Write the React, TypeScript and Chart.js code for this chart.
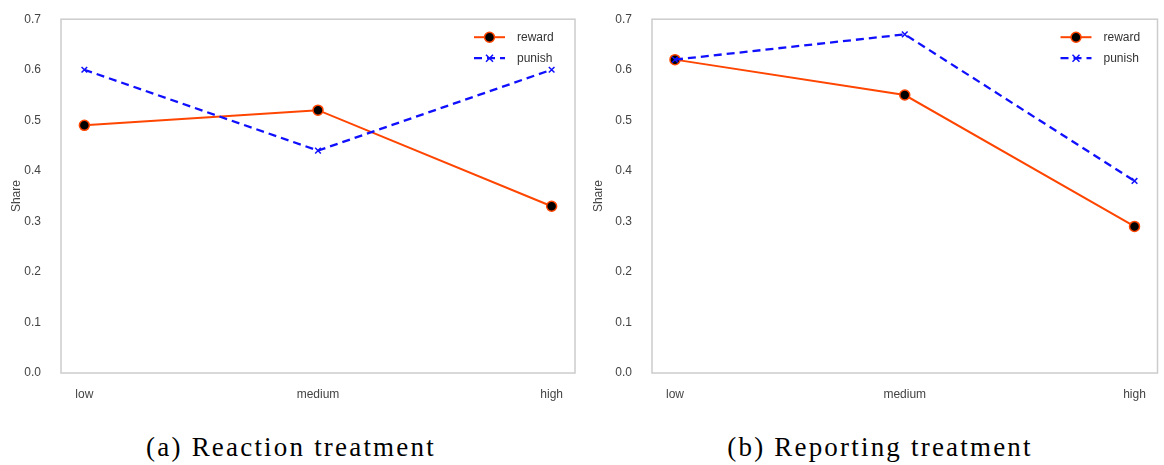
import React, { useEffect, useRef } from "react";
import { Chart, registerables } from "chart.js";

Chart.register(...registerables);

const categories = ["low", "medium", "high"];
const yTicks = [0, 0.1, 0.2, 0.3, 0.4, 0.5, 0.6, 0.7];

const reactionReward = [0.49, 0.52, 0.33];
const reactionPunish = [0.6, 0.44, 0.6];
const reportingReward = [0.62, 0.55, 0.29];
const reportingPunish = [0.62, 0.67, 0.38];

const REWARD_COLOR = "#ff4500";
const PUNISH_COLOR = "#1010ff";
const TICK_FONT = "'Liberation Sans', Arial, sans-serif";

function makeBoxAndLegend(legendOffset: number) {
  return {
    id: "boxAndLegend",
    afterDraw(chart: any) {
      const { ctx, chartArea } = chart;
      ctx.save();
      ctx.strokeStyle = "#cccccc";
      ctx.lineWidth = 1.5;
      ctx.strokeRect(chartArea.left, chartArea.top, chartArea.right - chartArea.left, chartArea.bottom - chartArea.top);

      const x0 = chartArea.right - legendOffset;
      const len = 31;
      const rows = [chartArea.top + 18, chartArea.top + 39];
      ctx.font = `12px ${TICK_FONT}`;
      ctx.textBaseline = "middle";
      ctx.textAlign = "left";
      const dsets = [chart.data.datasets[0], chart.data.datasets[1]];
      dsets.forEach((ds: any, i: number) => {
        const y = rows[i];
        ctx.save();
        ctx.strokeStyle = ds.borderColor;
        ctx.lineWidth = ds.borderWidth;
        ctx.setLineDash(ds.borderDash || []);
        ctx.beginPath();
        ctx.moveTo(x0, y);
        ctx.lineTo(x0 + len, y);
        ctx.stroke();
        ctx.restore();
        const cx = x0 + len / 2;
        ctx.save();
        if (ds.pointStyle === "circle") {
          ctx.beginPath();
          ctx.arc(cx, y, 5, 0, Math.PI * 2);
          ctx.fillStyle = ds.pointBackgroundColor;
          ctx.fill();
          ctx.strokeStyle = ds.pointBorderColor;
          ctx.lineWidth = 1.5;
          ctx.stroke();
        } else {
          ctx.strokeStyle = ds.pointBorderColor;
          ctx.lineWidth = 1.5;
          ctx.beginPath();
          ctx.moveTo(cx - 3.5, y - 3.5);
          ctx.lineTo(cx + 3.5, y + 3.5);
          ctx.moveTo(cx + 3.5, y - 3.5);
          ctx.lineTo(cx - 3.5, y + 3.5);
          ctx.stroke();
        }
        ctx.restore();
        ctx.fillStyle = "#333333";
        ctx.fillText(ds.label, x0 + len + 12, y);
      });
      ctx.restore();
    },
  };
}

function makeConfig(reward: number[], punish: number[], yAxisWidth: number, rightPad: number, legendOffset: number) {
  return {
    type: "line" as const,
    data: {
      datasets: [
        {
          label: "reward",
          data: reward.map((v, i) => ({ x: i, y: v })),
          borderColor: REWARD_COLOR,
          borderWidth: 2,
          pointStyle: "circle",
          pointRadius: 5,
          pointBackgroundColor: "#000000",
          pointBorderColor: REWARD_COLOR,
          pointBorderWidth: 1.5,
          tension: 0,
          fill: false,
          order: 1,
        },
        {
          label: "punish",
          data: punish.map((v, i) => ({ x: i, y: v })),
          borderColor: PUNISH_COLOR,
          borderWidth: 2.3,
          borderDash: [8, 5],
          pointStyle: "crossRot",
          pointRadius: 4,
          pointBackgroundColor: PUNISH_COLOR,
          pointBorderColor: PUNISH_COLOR,
          pointBorderWidth: 1.5,
          tension: 0,
          fill: false,
          order: 0,
        },
      ],
    },
    options: {
      animation: false,
      responsive: false,
      maintainAspectRatio: false,
      layout: { padding: { left: 0, top: 18, right: rightPad, bottom: 0 } },
      plugins: { legend: { display: false }, tooltip: { enabled: false } },
      scales: {
        x: {
          type: "linear",
          min: -0.1,
          max: 2.1,
          grid: { display: false },
          border: { display: false },
          afterBuildTicks: (scale: any) => {
            scale.ticks = categories.map((_, i) => ({ value: i }));
          },
          afterFit: (scale: any) => {
            scale.height = 37;
          },
          ticks: {
            autoSkip: false,
            maxRotation: 0,
            padding: 6,
            color: "#444444",
            font: { family: TICK_FONT, size: 12 },
            callback: (v: any) => categories[Math.round(v)] ?? "",
          },
        },
        y: {
          type: "linear",
          min: 0,
          max: 0.7,
          grid: { display: false },
          border: { display: false },
          afterBuildTicks: (scale: any) => {
            scale.ticks = yTicks.map((v) => ({ value: v }));
          },
          afterFit: (scale: any) => {
            scale.width = yAxisWidth;
          },
          title: {
            display: true,
            text: "Share",
            color: "#444444",
            font: { family: TICK_FONT, size: 12 },
            padding: { top: 9, bottom: 0 },
          },
          ticks: {
            padding: 12,
            color: "#444444",
            font: { family: TICK_FONT, size: 12 },
            callback: (v: any) => Number(v).toFixed(1),
          },
        },
      },
    },
    plugins: [makeBoxAndLegend(legendOffset)],
  };
}

function LineChart({ reward, punish, yAxisWidth, rightPad, legendOffset }: any) {
  const ref = useRef<HTMLCanvasElement | null>(null);
  useEffect(() => {
    if (!ref.current) return;
    const chart = new Chart(ref.current, makeConfig(reward, punish, yAxisWidth, rightPad, legendOffset) as any);
    return () => chart.destroy();
  }, []);
  return <canvas ref={ref} width={582} height={410} style={{ display: "block" }} />;
}

const captionStyle: React.CSSProperties = {
  position: "absolute",
  top: 432,
  width: 582,
  textAlign: "center",
  fontFamily: "'Liberation Serif', 'Times New Roman', serif",
  fontSize: 27,
  lineHeight: "30px",
  letterSpacing: 2.2,
  color: "#000",
};

export default function App() {
  return (
    <div style={{ position: "absolute", left: 0, top: 0, width: 1164, height: 465, background: "#fff" }}>
      <div style={{ position: "absolute", left: 0, top: 0 }}>
        <LineChart reward={reactionReward} punish={reactionPunish} yAxisWidth={61} rightPad={7} legendOffset={101} />
      </div>
      <div style={{ position: "absolute", left: 582, top: 0 }}>
        <LineChart reward={reportingReward} punish={reportingPunish} yAxisWidth={70} rightPad={1} legendOffset={97} />
      </div>
      <div style={{ ...captionStyle, left: 0 }}>(a) Reaction treatment</div>
      <div style={{ ...captionStyle, left: 589 }}>(b) Reporting treatment</div>
    </div>
  );
}
